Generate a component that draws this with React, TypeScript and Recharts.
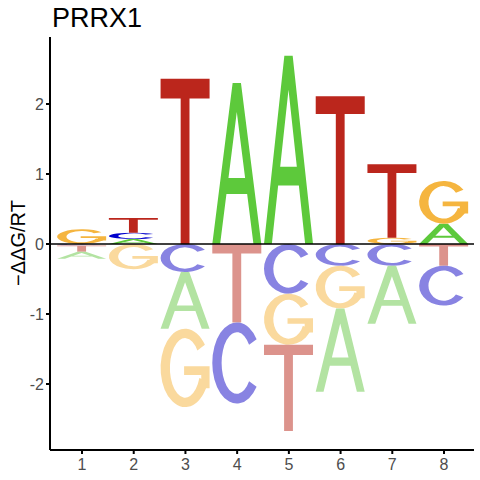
import { ComposedChart, Bar, XAxis, YAxis, ReferenceLine } from 'recharts';

const POSITIONS = [1, 2, 3, 4, 5, 6, 7, 8];
const LETTERS = ['A', 'C', 'G', 'T'];

// -ddG/RT per letter, position 1..8
const A_VALUES = [-0.10, 0.07, -0.81, 2.30, 2.69, -1.19, -0.83, 0.29];
const C_VALUES = [-0.02, 0.09, -0.40, -1.16, -0.71, -0.31, -0.31, -0.57];
const G_VALUES = [0.21, -0.36, -1.12, 0, -0.73, -0.61, 0.09, 0.61];
const T_VALUES = [-0.09, 0.21, 2.36, -1.12, -1.23, 2.11, 1.05, -0.31];

const Y_TICKS = [-2, -1, 0, 1, 2];

const POS_COLORS: Record<string, string> = { A: '#5DC93B', C: '#0000CC', G: '#F5B53F', T: '#BB261C' };
const NEG_COLORS: Record<string, string> = { A: '#B3E3A2', C: '#8883E2', G: '#FAD99D', T: '#DC938C' };

const VALUES: Record<string, number[]> = { A: A_VALUES, C: C_VALUES, G: G_VALUES, T: T_VALUES };
const SLOTS = ['p0', 'p1', 'p2', 'p3', 'n0', 'n1', 'n2', 'n3'];

// one row per position, letters sorted so the biggest sits farthest from zero
const rows = POSITIONS.map((pos, i) => {
  const entries = LETTERS.map((l) => ({ l, v: VALUES[l][i] }));
  const up = entries.filter((e) => e.v > 0).sort((a, b) => a.v - b.v);
  const down = entries.filter((e) => e.v < 0).sort((a, b) => b.v - a.v);
  const row: any = { pos };
  for (let k = 0; k < 4; k++) {
    row['p' + k] = up[k] ? up[k].v : 0;
    row['p' + k + 'L'] = up[k] ? up[k].l : null;
    row['n' + k] = down[k] ? down[k].v : 0;
    row['n' + k + 'L'] = down[k] ? down[k].l : null;
  }
  return row;
});

const ringPath = (x: number, y: number, w: number, h: number, a1: number, a2: number) => {
  const cx = x + w / 2;
  const cy = y + h / 2;
  const rx = w / 2;
  const ry = h / 2;
  const irx = rx - 0.19 * w;
  const iry = ry - 0.12 * h;
  const r1 = (a1 * Math.PI) / 180;
  const r2 = (a2 * Math.PI) / 180;
  const pt = (ax: number, ay: number, t: number) => `${cx + ax * Math.cos(t)} ${cy - ay * Math.sin(t)}`;
  return (
    `M ${pt(rx, ry, r1)} A ${rx} ${ry} 0 1 0 ${pt(rx, ry, r2)} ` +
    `L ${pt(irx, iry, r2)} A ${irx} ${iry} 0 1 1 ${pt(irx, iry, r1)} Z`
  );
};

const letterPaths = (letter: string, x: number, y: number, w: number, h: number) => {
  const X = (f: number) => x + f * w;
  const Y = (f: number) => y + f * h;
  if (letter === 'T') {
    return [
      `M ${X(0)} ${Y(0)} H ${X(1)} V ${Y(0.12)} H ${X(0.59)} V ${Y(1)} H ${X(0.41)} V ${Y(0.12)} H ${X(0)} Z`,
    ];
  }
  if (letter === 'A') {
    const li = (v: number) => 0.415 * (1 - v) + 0.16;
    const ri = (v: number) => 1 - li(v);
    const apex = 1 - 0.34 / 0.415;
    return [
      `M ${X(0)} ${Y(1)} L ${X(0.415)} ${Y(0)} L ${X(0.585)} ${Y(0)} L ${X(1)} ${Y(1)} L ${X(0.84)} ${Y(1)} ` +
        `L ${X(ri(0.69))} ${Y(0.69)} L ${X(li(0.69))} ${Y(0.69)} L ${X(0.16)} ${Y(1)} Z ` +
        `M ${X(li(0.59))} ${Y(0.59)} L ${X(0.5)} ${Y(apex)} L ${X(ri(0.59))} ${Y(0.59)} Z`,
    ];
  }
  if (letter === 'C') {
    return [ringPath(x, y, w, h, 36, -36)];
  }
  // G
  return [
    ringPath(x, y, w, h, 36, -20),
    `M ${X(0.48)} ${Y(0.48)} H ${X(1)} V ${Y(0.76)} H ${X(0.83)} V ${Y(0.59)} H ${X(0.48)} Z`,
  ];
};

const makeShape = (slot: string) => (props: any) => {
  const { x, y, width, height, payload } = props;
  const letter = payload ? payload[slot + 'L'] : null;
  if (!letter || !height) return <g />;
  const top = height < 0 ? y + height : y;
  const h = Math.abs(height);
  const color = payload[slot] < 0 ? NEG_COLORS[letter] : POS_COLORS[letter];
  return (
    <g>
      {letterPaths(letter, x, top, width, h).map((d, i) => (
        <path key={i} d={d} fill={color} fillRule="evenodd" stroke="none" />
      ))}
    </g>
  );
};

const tickStyle = { fill: '#4D4D4D', fontSize: 16, fontFamily: 'Liberation Sans, Arial, sans-serif' };

const App = () => {
  return (
    <div style={{ position: 'absolute', left: 0, top: 0, width: 480, height: 480, background: '#fff' }}>
      <ComposedChart
        width={480}
        height={480}
        data={rows}
        stackOffset="sign"
        margin={{ top: 37, right: 6, bottom: 0, left: 0 }}
      >
        <XAxis
          type="number"
          dataKey="pos"
          domain={[0.381, 8.58]}
          ticks={POSITIONS}
          allowDataOverflow
          height={30}
          axisLine={{ stroke: '#000', strokeWidth: 2 }}
          tickLine={{ stroke: '#000', strokeWidth: 2 }}
          tickSize={4}
          tickMargin={5}
          tick={tickStyle}
        />
        <YAxis
          type="number"
          domain={[-2.943, 2.957]}
          ticks={Y_TICKS}
          allowDataOverflow
          width={50}
          axisLine={{ stroke: '#000', strokeWidth: 2 }}
          tickLine={{ stroke: '#000', strokeWidth: 2 }}
          tickSize={4}
          tickMargin={2}
          tick={tickStyle}
        />
        {SLOTS.map((s) => (
          <Bar
            key={s}
            dataKey={s}
            stackId="logo"
            barSize={49}
            isAnimationActive={false}
            shape={makeShape(s)}
          />
        ))}
        <ReferenceLine y={0} stroke="#000" strokeWidth={1.5} />
      </ComposedChart>
      <svg width={480} height={480} style={{ position: 'absolute', left: 0, top: 0, pointerEvents: 'none' }}>
        <text x={52} y={27} fontSize={27} fontFamily="Liberation Sans, Arial, sans-serif" fill="#000">
          PRRX1
        </text>
        <text
          x={25}
          y={243}
          transform="rotate(-90 25 243)"
          textAnchor="middle"
          fontSize={20}
          fontFamily="Liberation Sans, Arial, sans-serif"
          fill="#000"
        >
          −ΔΔG/RT
        </text>
      </svg>
    </div>
  );
};

export default App;
